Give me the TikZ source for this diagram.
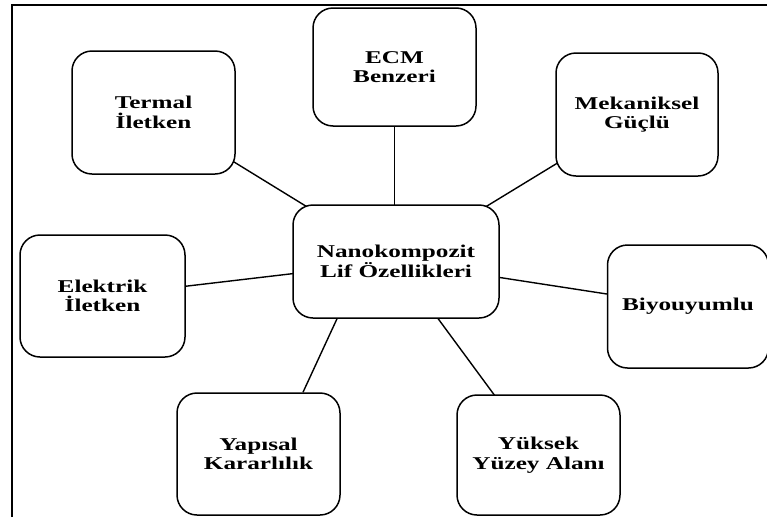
\documentclass[tikz,border=0pt]{standalone}
\usepackage{fontspec}
\newfontfamily\bxfont{Liberation Serif}[FakeStretch=1.4]
\usetikzlibrary{calc,backgrounds}
\begin{document}
\begin{tikzpicture}[x=1pt,y=-1pt,
  box/.style={draw, line width=1.5pt, rounded corners=20pt, fill=white,
    align=center, inner sep=2pt,
    font=\bxfont\bfseries\fontsize{18}{19.5}\selectfont},
  link/.style={line width=1.4pt}]
\useasboundingbox (0,0) rectangle (767,517);
\draw[line width=1.5pt] (12,517) |- (767,5);
\node[box, minimum width=163pt, minimum height=123pt] (term) at (153.5,112.5) {Termal\\İletken};
\node[box, minimum width=163pt, minimum height=118pt] (ecm) at (394.5,67) {ECM\\Benzeri};
\node[box, minimum width=162pt, minimum height=123pt] (mek) at (637,114.5) {Mekaniksel\\Güçlü};
\node[box, minimum width=206pt, minimum height=113pt] (nano) at (396,261.5) {Nanokompozit\\Lif Özellikleri};
\node[box, minimum width=165pt, minimum height=122pt] (elek) at (102.5,296) {Elektrik\\İletken};
\node[box, minimum width=161pt, minimum height=123pt] (biyo) at (688,306.5) {Biyouyumlu};
\node[box, minimum width=163pt, minimum height=122pt] (yap) at (258.5,454) {Yapısal\\Kararlılık};
\node[box, minimum width=163pt, minimum height=120pt] (yuk) at (538.5,455) {Yüksek\\Yüzey Alanı};
\begin{pgfonlayer}{background}
\draw[link] (term.center) -- (nano.center);
\draw[link] (nano.center -| ecm.center) -- (ecm.center);
\draw[link] (mek.center) -- (nano.center);
\draw[link] (elek.center) -- (nano.center);
\draw[link] (biyo.center) -- (nano.center);
\draw[link] (yuk.center) -- (nano.center);
\end{pgfonlayer}
\draw[link] ($(yap.north)+(44.5,0)$) -- ($(nano.south)+(-59,0)$);
\end{tikzpicture}
\end{document}
